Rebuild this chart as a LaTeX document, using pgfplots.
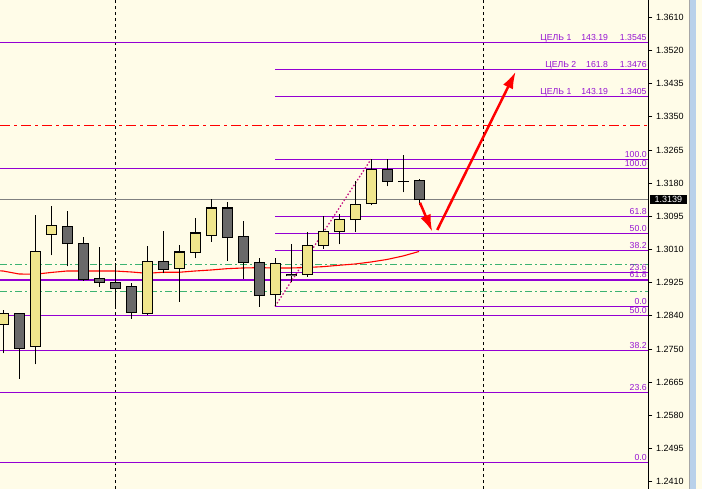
\documentclass[border=0pt]{standalone}
\usepackage{fontspec}
\setmainfont{Liberation Sans}
\usepackage{pgfplots}
\pgfplotsset{compat=1.18}
\usepackage{pgfplotstable}
\usetikzlibrary{arrows.meta}
\definecolor{bg}{RGB}{255,252,232}
\definecolor{bullc}{RGB}{240,230,140}
\definecolor{bearc}{RGB}{105,105,105}
\definecolor{fib}{RGB}{148,0,211}
\definecolor{fibtxt}{RGB}{150,20,210}
\definecolor{grn}{RGB}{60,179,113}
\definecolor{diag}{RGB}{199,21,133}
\definecolor{scroll}{RGB}{185,209,234}
\tikzset{flab/.style={anchor=base east, inner sep=0pt, xshift=-1.5pt, yshift=2pt, text=fibtxt, font=\fontsize{8.7}{10}\selectfont}}
\pgfplotsset{candle/.style={draw=none, mark=none, forget plot, error bars/.cd, y dir=plus, y explicit, error mark=none, error bar style={#1}}}

\pgfplotstableread{
i  o       h       l       c
0  1.28167 1.28537 1.27418 1.28426
2  1.27599 1.30991 1.27134 1.30053
3  1.30500 1.31224 1.29950 1.30725
9  1.28451 1.30190 1.28400 1.29795
11 1.29614 1.30216 1.28751 1.30028
12 1.30028 1.30914 1.29873 1.30519
13 1.30467 1.31397 1.30302 1.31165
17 1.28942 1.29873 1.28632 1.29718
19 1.29459 1.30544 1.29397 1.30208
20 1.30208 1.30958 1.30121 1.30570
21 1.30570 1.31010 1.30234 1.30880
22 1.30880 1.31862 1.30560 1.31268
23 1.31294 1.32431 1.31242 1.32172
25 1.31862 1.32534 1.31578 1.31862
}\bull

\pgfplotstableread{
i  o       h       l       c
1  1.28426 1.28451 1.26761 1.27547
4  1.30699 1.31095 1.29666 1.30260
5  1.30260 1.30423 1.29294 1.29330
6  1.29356 1.30157 1.29139 1.29252
7  1.29252 1.29743 1.28581 1.29097
8  1.29149 1.29227 1.28312 1.28477
10 1.29795 1.30578 1.29485 1.29588
14 1.31165 1.31320 1.29811 1.30415
15 1.30441 1.30829 1.29346 1.29769
16 1.29769 1.29873 1.28622 1.28916
18 1.29459 1.30234 1.29268 1.29423
24 1.32172 1.32431 1.31733 1.31862
26 1.31888 1.31914 1.31242 1.31397
}\bear

\pgfplotstableread{
i  ma
-1 1.29560
0  1.29544
1  1.29467
2  1.29459
3  1.29506
4  1.29544
5  1.29544
6  1.29544
7  1.29544
8  1.29519
9  1.29485
10 1.29511
11 1.29511
12 1.29544
13 1.29570
14 1.29604
15 1.29622
16 1.29630
17 1.29622
18 1.29622
19 1.29635
20 1.29656
21 1.29692
22 1.29725
23 1.29777
24 1.29842
25 1.29932
26 1.30048
}\ma

\begin{document}
\begin{tikzpicture}
\useasboundingbox (0,0) rectangle (702pt,489pt);
\fill[bg] (0,0) rectangle (702pt,489pt);
\begin{axis}[
  at={(0,0)}, anchor=south west,
  scale only axis, width=648.3pt, height=489pt,
  xmin=-0.1875, xmax=40.33, ymin=1.23911, ymax=1.36547,
  axis x line=none, axis y line=right,
  axis line style={-, black, line width=1pt},
  scaled y ticks=false,
  ytick={1.36100,1.352429,1.343857,1.335286,1.326714,1.318143,1.309571,1.301000,1.292429,1.283857,1.275286,1.266714,1.258143,1.249571,1.241000},
  yticklabels={1.3610,1.3520,1.3435,1.3350,1.3265,1.3180,1.3095,1.3010,1.2925,1.2840,1.2750,1.2665,1.2580,1.2495,1.2410},
  tick align=outside, major tick length=4pt,
  tick style={black, line width=0.8pt},
  yticklabel style={font=\fontsize{9}{10}\selectfont, anchor=west, inner sep=0pt, xshift=3.5pt},
  /pgf/number format/assume math mode=true,
  clip=true,
]
% period separators
\addplot[black, line width=0.8pt, dash pattern=on 3pt off 3pt] coordinates {(7,1.2391) (7,1.3655)};
\addplot[black, line width=0.8pt, dash pattern=on 3pt off 3pt] coordinates {(30,1.2391) (30,1.3655)};
% red dash-dot
\addplot[red, line width=1pt, dash pattern=on 10pt off 4pt on 3pt off 4pt] coordinates {(-0.1875,1.33309) (40.33,1.33309)};
% green dash-dot
\addplot[grn, line width=1pt, dash pattern=on 7pt off 3pt on 2pt off 3pt] coordinates {(-0.1875,1.29718) (40.33,1.29718)};
\addplot[grn, line width=1pt, dash pattern=on 7pt off 3pt on 2pt off 3pt] coordinates {(-0.1875,1.29020) (40.33,1.29020)};
% current price line
\addplot[gray, line width=1pt] coordinates {(-0.1875,1.31395) (40.33,1.31395)};
% lower fibo (full width)
\foreach \lv in {1.35454,1.32198,1.29312,1.28400,1.27495,1.26410,1.24603}{
  \edef\tmp{\noexpand\addplot[fib, line width=1.2pt] coordinates {(-0.1875,\lv) (40.33,\lv)};}\tmp
}
% upper fibo (from bar 17)
\foreach \lv in {1.34756,1.34059,1.32431,1.30958,1.30519,1.30079,1.29511,1.28632}{
  \edef\tmp{\noexpand\addplot[fib, line width=1.2pt] coordinates {(17,\lv) (40.33,\lv)};}\tmp
}
% fibo trend line
\addplot[diag, line width=1.3pt, dash pattern=on 1.5pt off 2pt] coordinates {(17,1.28632) (23,1.32431)};
% moving average
\addplot[red, line width=1.1pt] table[x=i, y=ma] {\ma};
% wicks
\addplot[candle={black, line width=1pt}]
  table[x=i, y=l, y error plus expr=\thisrow{h}-\thisrow{l}] {\bull};
\addplot[candle={black, line width=1pt}]
  table[x=i, y=l, y error plus expr=\thisrow{h}-\thisrow{l}] {\bear};
% bodies: outline
\addplot[candle={black, line width=11pt}]
  table[x=i, y expr=\thisrow{o}-0.0002, y error plus expr=\thisrow{c}-\thisrow{o}+0.0004] {\bull};
\addplot[candle={black, line width=11pt}]
  table[x=i, y expr=\thisrow{c}-0.0002, y error plus expr=\thisrow{o}-\thisrow{c}+0.0004] {\bear};
% bodies: fill
\addplot[candle={bullc, line width=9pt}]
  table[x=i, y expr=\thisrow{o}+0.00006, y error plus expr={max(0,\thisrow{c}-\thisrow{o}-0.00012)}] {\bull};
\addplot[candle={bearc, line width=9pt}]
  table[x=i, y expr=\thisrow{c}+0.00006, y error plus expr={max(0,\thisrow{o}-\thisrow{c}-0.00012)}] {\bear};
% arrows
\addplot[red, line width=2.5pt, -{Latex[length=17pt,width=11pt]}] coordinates {(26.06,1.31309) (26.83,1.30560)};
\addplot[red, line width=2.5pt, -{Latex[length=17pt,width=11pt]}] coordinates {(27.14,1.30604) (32.04,1.34694)};
% labels
\node[flab] at (axis cs:40.33,1.35454) {ЦЕЛЬ 1\hspace{10pt}143.19\hspace{12pt}1.3545};
\node[flab] at (axis cs:40.33,1.34756) {ЦЕЛЬ 2\hspace{10pt}161.8\hspace{12pt}1.3476};
\node[flab] at (axis cs:40.33,1.34059) {ЦЕЛЬ 1\hspace{10pt}143.19\hspace{12pt}1.3405};
\node[flab] at (axis cs:40.33,1.32431) {100.0};
\node[flab] at (axis cs:40.33,1.32198) {100.0};
\node[flab] at (axis cs:40.33,1.30958) {61.8};
\node[flab] at (axis cs:40.33,1.30519) {50.0};
\node[flab] at (axis cs:40.33,1.30079) {38.2};
\node[flab] at (axis cs:40.33,1.29511) {23.6};
\node[flab] at (axis cs:40.33,1.29312) {61.8};
\node[flab] at (axis cs:40.33,1.28632) {0.0};
\node[flab] at (axis cs:40.33,1.28400) {50.0};
\node[flab] at (axis cs:40.33,1.27495) {38.2};
\node[flab] at (axis cs:40.33,1.26410) {23.6};
\node[flab] at (axis cs:40.33,1.24603) {0.0};
\coordinate (pp) at (axis cs:40.33,1.31395);
\end{axis}
\node[fill=black, text=white, anchor=west, inner xsep=4.5pt, inner ysep=1.3pt, text height=6.5pt, text depth=0pt, font=\fontsize{9}{10}\selectfont] at ([xshift=1.7pt]pp) {1.3139};
\fill[scroll] (690pt,0) rectangle (696pt,489pt);
\draw[gray!70, line width=0.8pt] (689.6pt,0) -- (689.6pt,489pt);
\end{tikzpicture}
\end{document}
